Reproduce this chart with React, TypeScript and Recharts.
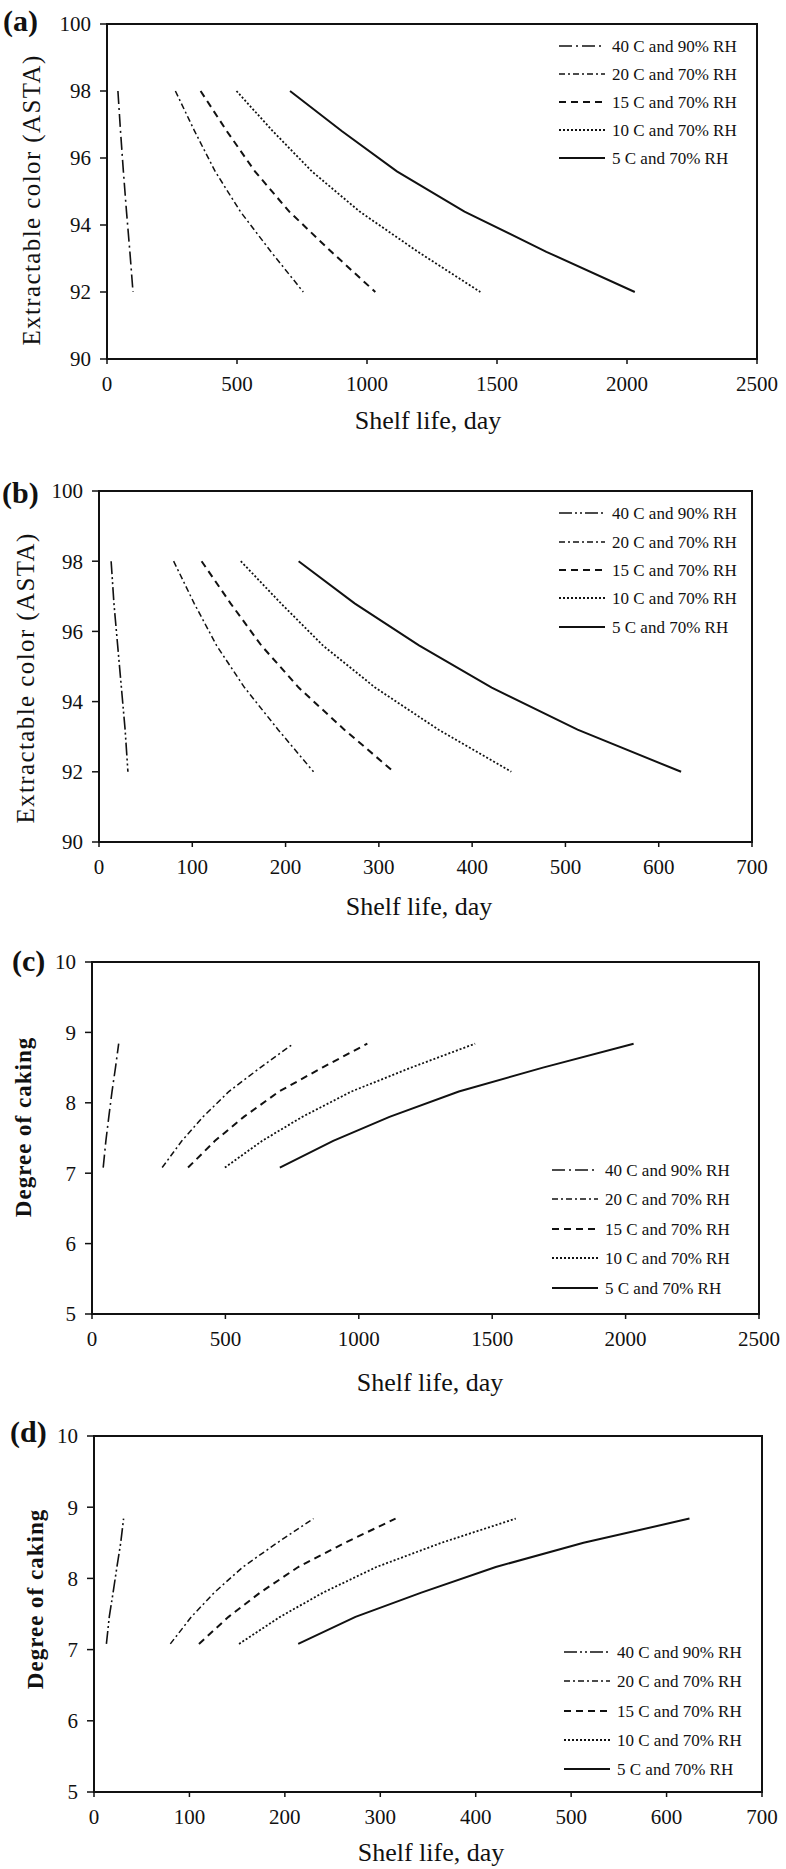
import { LineChart, Line, XAxis, YAxis, Legend, ReferenceArea } from "recharts"

const SERIES_NAMES = [
  "40 C and 90% RH",
  "20 C and 70% RH",
  "15 C and 70% RH",
  "10 C and 70% RH",
  "5 C and 70% RH",
]

// extractable color (ASTA) and degree of caking at each computed point
const astaLevels = [98, 96.8, 95.6, 94.4, 93.2, 92]
const cakingLevels = [7.08, 7.46, 7.8, 8.16, 8.5, 8.84]

// shelf life in days, panels (a) and (c)
const daysLong40C90 = [42, 52, 63, 75, 88, 100]
const daysLong20C70 = [263, 337, 416, 513, 631, 755]
const daysLong15C70 = [360, 461, 569, 701, 863, 1032]
const daysLong10C70 = [498, 638, 788, 972, 1196, 1436]
const daysLong5C70 = [704, 904, 1115, 1375, 1690, 2030]

// shelf life in days, panels (b) and (d)
const daysShort40C90 = [13, 16, 20, 24, 28, 31]
const daysShort20C70 = [80, 102, 126, 156, 192, 230]
const daysShort15C70 = [110, 141, 174, 214, 263, 316]
const daysShort10C70 = [152, 195, 240, 296, 364, 442]
const daysShort5C70 = [214, 274, 343, 421, 513, 624]

const longTicks = [0, 500, 1000, 1500, 2000, 2500]
const shortTicks = [0, 100, 200, 300, 400, 500, 600, 700]
const astaTicks = [90, 92, 94, 96, 98, 100]
const cakingTicks = [5, 6, 7, 8, 9, 10]

const FONT = '"Liberation Serif", "Times New Roman", serif'
const INK = "#111"
const Y_AXIS_W = 60
const X_AXIS_H = 40

const toPoints = (days: number[], levels: number[]) =>
  days.map((x, i) => ({ x, y: levels[i] }))

const lineStyles = (dash40: string) => [
  { dash: dash40, width: 1.6 },
  { dash: "6 3 2 3", width: 1.5 },
  { dash: "7 5", width: 2 },
  { dash: "2 2", width: 1.8 },
  { dash: undefined, width: 2 },
]

const PANELS = [
  {
    letter: "(a)", letterX: 3, letterY: 31,
    top: 0, height: 460,
    plot: { left: 107, top: 24, right: 757, bottom: 359 },
    xTicks: longTicks, yTicks: astaTicks,
    days: [daysLong40C90, daysLong20C70, daysLong15C70, daysLong10C70, daysLong5C70],
    levels: astaLevels,
    dash40: "13 4 2 4",
    yTitle: "Extractable color (ASTA)", yBold: false,
    xTitlePos: { x: 428, y: 429 }, yTitlePos: { x: 40, y: 200 },
    legend: { x: 559, rows: [46, 74, 102, 130, 158] },
  },
  {
    letter: "(b)", letterX: 2, letterY: 43,
    top: 460, height: 470,
    plot: { left: 99, top: 31, right: 752, bottom: 382 },
    xTicks: shortTicks, yTicks: astaTicks,
    days: [daysShort40C90, daysShort20C70, daysShort15C70, daysShort10C70, daysShort5C70],
    levels: astaLevels,
    dash40: "13 3 2 3 2 3",
    yTitle: "Extractable color (ASTA)", yBold: false,
    xTitlePos: { x: 419, y: 455 }, yTitlePos: { x: 34, y: 218 },
    legend: { x: 559, rows: [53, 82, 110, 138, 167] },
  },
  {
    letter: "(c)", letterX: 12, letterY: 41,
    top: 930, height: 470,
    plot: { left: 92, top: 32, right: 759, bottom: 384 },
    xTicks: longTicks, yTicks: cakingTicks,
    days: [daysLong40C90, daysLong20C70, daysLong15C70, daysLong10C70, daysLong5C70],
    levels: cakingLevels,
    dash40: "13 4 2 4",
    yTitle: "Degree of caking", yBold: true,
    xTitlePos: { x: 430, y: 461 }, yTitlePos: { x: 31, y: 197 },
    legend: { x: 552, rows: [240, 269, 299, 328, 358] },
  },
  {
    letter: "(d)", letterX: 10, letterY: 42,
    top: 1400, height: 469,
    plot: { left: 94, top: 36, right: 762, bottom: 392 },
    xTicks: shortTicks, yTicks: cakingTicks,
    days: [daysShort40C90, daysShort20C70, daysShort15C70, daysShort10C70, daysShort5C70],
    levels: cakingLevels,
    dash40: "13 3 2 3 2 3",
    yTitle: "Degree of caking", yBold: true,
    xTitlePos: { x: 431, y: 461 }, yTitlePos: { x: 43, y: 199 },
    legend: { x: 564, rows: [252, 281, 311, 340, 369] },
  },
]

type PanelConfig = (typeof PANELS)[number]

function Panel({ cfg }: { cfg: PanelConfig }) {
  const styles = lineStyles(cfg.dash40)
  const { plot } = cfg
  const margin = {
    top: plot.top,
    left: plot.left - Y_AXIS_W,
    right: 786 - plot.right,
    bottom: cfg.height - plot.bottom - X_AXIS_H,
  }
  const xMin = cfg.xTicks[0]
  const xMax = cfg.xTicks[cfg.xTicks.length - 1]
  const yMin = cfg.yTicks[0]
  const yMax = cfg.yTicks[cfg.yTicks.length - 1]
  const tickStyle = { fontFamily: FONT, fontSize: 21, fill: INK }

  // overlay with panel letter and the legend box
  const overlay = () => (
    <svg width={786} height={cfg.height} style={{ display: "block" }}>
      <text x={cfg.letterX} y={cfg.letterY} fontFamily={FONT} fontSize={30} fontWeight="bold" fill={INK}>
        {cfg.letter}
      </text>
      {SERIES_NAMES.map((name, i) => (
        <g key={name}>
          <line
            x1={cfg.legend.x}
            x2={cfg.legend.x + 46}
            y1={cfg.legend.rows[i]}
            y2={cfg.legend.rows[i]}
            stroke={INK}
            strokeWidth={styles[i].width}
            strokeDasharray={styles[i].dash}
          />
          <text
            x={cfg.legend.x + 53}
            y={cfg.legend.rows[i]}
            dy="0.35em"
            fontFamily={FONT}
            fontSize={17}
            fill={INK}
          >
            {name}
          </text>
        </g>
      ))}
    </svg>
  )

  return (
    <div style={{ position: "absolute", left: 0, top: cfg.top }}>
      <LineChart width={786} height={cfg.height} margin={margin}>
        <XAxis
          type="number"
          dataKey="x"
          domain={[xMin, xMax]}
          ticks={cfg.xTicks}
          height={X_AXIS_H}
          axisLine={{ stroke: INK, strokeWidth: 2 }}
          tickLine={{ stroke: INK, strokeWidth: 1.5 }}
          tickSize={5}
          tickMargin={12}
          tick={tickStyle}
          label={() => (
            <text
              x={cfg.xTitlePos.x}
              y={cfg.xTitlePos.y}
              textAnchor="middle"
              fontFamily={FONT}
              fontSize={26}
              fill={INK}
            >
              Shelf life, day
            </text>
          )}
        />
        <YAxis
          type="number"
          domain={[yMin, yMax]}
          ticks={cfg.yTicks}
          width={Y_AXIS_W}
          axisLine={{ stroke: INK, strokeWidth: 2 }}
          tickLine={{ stroke: INK, strokeWidth: 1.5 }}
          tickSize={7}
          tickMargin={9}
          tick={tickStyle}
          label={() => (
            <text
              transform={`translate(${cfg.yTitlePos.x},${cfg.yTitlePos.y}) rotate(-90)`}
              textAnchor="middle"
              fontFamily={FONT}
              fontSize={cfg.yBold ? 23 : 25}
              fontWeight={cfg.yBold ? "bold" : "normal"}
              letterSpacing={cfg.yBold ? 1 : 1.4}
              fill={INK}
            >
              {cfg.yTitle}
            </text>
          )}
        />
        <ReferenceArea
          x1={xMin}
          x2={xMax}
          y1={yMin}
          y2={yMax}
          fill="none"
          stroke={INK}
          strokeWidth={2}
        />
        {cfg.days.map((d, i) => (
          <Line
            key={SERIES_NAMES[i]}
            name={SERIES_NAMES[i]}
            data={toPoints(d, cfg.levels)}
            dataKey="y"
            type="linear"
            stroke={INK}
            strokeWidth={styles[i].width}
            strokeDasharray={styles[i].dash}
            dot={false}
            activeDot={false}
            isAnimationActive={false}
          />
        ))}
        <Legend
          layout="vertical"
          align="center"
          verticalAlign="middle"
          content={overlay}
          wrapperStyle={{ left: 0, top: 0, width: 786, height: cfg.height, pointerEvents: "none" }}
        />
      </LineChart>
    </div>
  )
}

export default function App() {
  return (
    <div style={{ position: "absolute", left: 0, top: 0, width: 786, height: 1869, background: "#fff" }}>
      {PANELS.map((p) => (
        <Panel key={p.letter} cfg={p} />
      ))}
    </div>
  )
}
